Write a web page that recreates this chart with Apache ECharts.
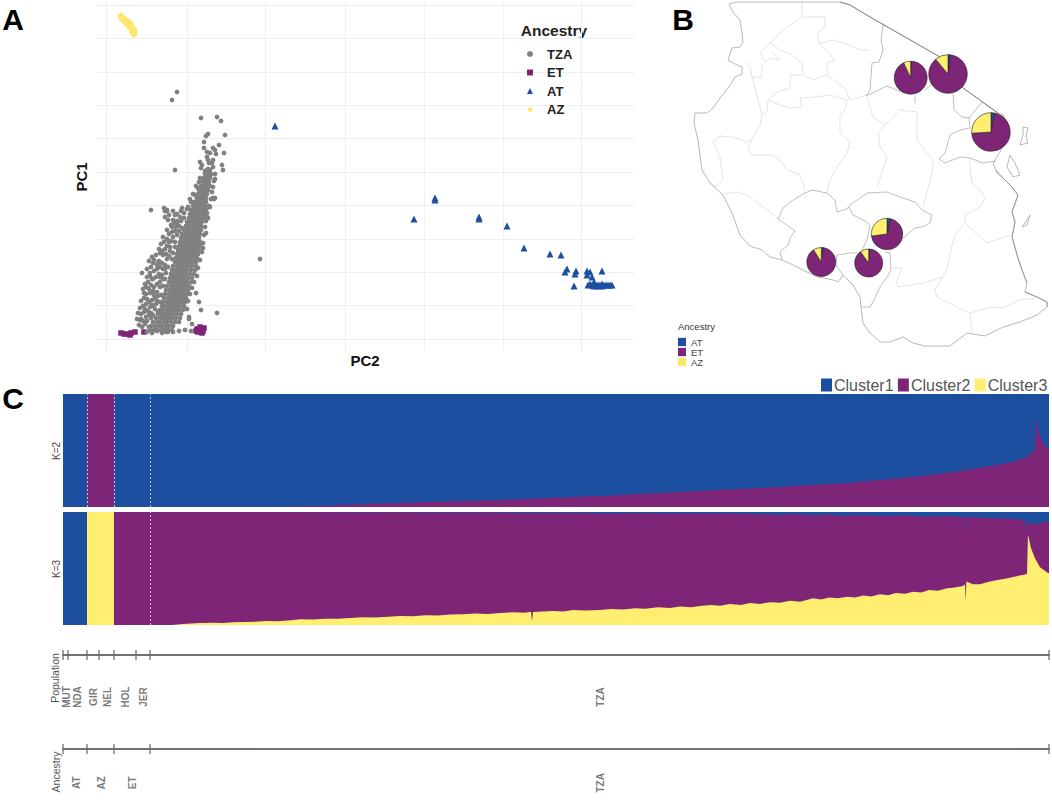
<!DOCTYPE html>
<html><head><meta charset="utf-8">
<script src="https://cdn.jsdelivr.net/npm/echarts@6/dist/echarts.min.js"></script>
<style>html,body{margin:0;padding:0;background:#fff}#c{width:1052px;height:801px}</style>
</head><body><div id="c"></div>
<script>
const BLUE='#1c4f9f',PURPLE='#7f2578',YELLOW='#ffee70',GRAY='#808080';
// ---------- Panel A values (PC2, PC1 in plot units) ----------
const pc2Grid=[9,90,168,248,327,406,484];
const pc1Grid=[0,33.4,66.8,100.2,133.6,167,200.4,233.8,267.2,300.6,334];
const tzaCoreRows=[
[9,[53,57,60,64,67,71,75]],[13,[54,58,62,65,69,72,76]],[17,[56,60,63,67,70,74,78,82]],[21,[59,63,66,69,72,75,79,83]],
[25,[61,65,68,71,74,77,80,84]],[29,[63,66,70,73,76,79,82,86]],[33,[65,68,71,74,77,80,83,87]],[37,[66,70,73,76,79,82,85,88]],
[41,[67,71,74,77,80,83,86,89]],[45,[68,72,75,78,81,84,87,90]],[49,[69,73,76,79,82,85,88,91]],[53,[70,74,77,80,83,86,89,92]],
[57,[72,75,78,81,84,87,90,94]],[61,[73,76,79,82,85,88,91,95]],[65,[74,77,80,83,86,89,93,97]],[69,[75,78,81,84,87,90,94,98]],
[73,[76,80,83,86,89,92,95,99]],[77,[78,81,84,87,90,93,96,99]],[81,[79,82,85,88,91,94,97,100]],[85,[80,83,86,89,92,95,98,101]],
[89,[81,84,87,90,93,96,99,102]],[93,[82,85,88,91,94,97,100,103]],[97,[83,86,89,92,95,98,101,103]],[101,[84,87,90,93,96,99,102]],
[105,[85,88,91,94,97,100,103]],[109,[87,90,93,96,99,102,104]],[113,[89,92,95,98,101,104]],[117,[90,93,96,99,102,105]],
[121,[92,95,98,101,104,106]],[125,[93,96,99,102,105,107]],[129,[94,97,100,103,106,108]],[133,[96,99,102,105,108]],
[137,[98,101,104,107,109]],[141,[100,103,106,109]],[145,[101,104,107,110]],[149,[102,105,108,111]],[153,[104,107,110,113]],
[157,[106,109,112]],[161,[107,110,113]],[165,[108,111,114]],[169,[110,113]]];
const tzaScatter=[[50,7],[55,6],[60,8],[65,6],[70,7],[76,7],[82,8],[88,9],[94,8],
[41,26],[43,19],[47,46],[49,52],[53,66],[45,66],[57,79],[61,76],[63,86],[70,109],[72,97],[68,90],[66,84],[60,70],[55,60],[52,50],[57,44],[50,40],[55,34],[48,30],[52,24],[58,30],[60,38],[63,52],[66,60],[68,70],[63,62],[70,80],[73,92],[76,102],[75,112],[80,118],[78,108],[71,119],[80,125],[84,128],[70,128],[68,122],[54,129],[67,131],[68,128],[70,129],
[120,26],[102,37],[99,46],[109,106],[106,91],[111,121],[118,141],[113,132],[107,122],[95,15],[104,29],[92,22],[163,80],
[75,239],[80,247],[104,221],[120,222],[124,218],[128,204],[111,205],[109,203],[107,197],[122,194],[107,191],[110,187],[116,191],[118,189],[127,186],[119,185],[103,177],[111,179],[116,179],[112,176],[116,172],[105,174],[104,171],[125,174],[126,169],[78,169],[112,167],[110,161],[113,162],[118,160],[103,161],[102,157],[109,157],[106,153],[99,153],[116,141],[117,140],[96,145],[98,144],[93,140],[94,137],[110,131],[110,122],[85,131],[91,132],[78,124],[83,122],[76,119],[80,116],
[45,12],[48,15],[42,14],[50,18],[46,18],[52,12],[44,20],[49,22],[54,21],[40,20],
[44,25],[47,27],[51,28],[54,26],[56,24],[43,31],[46,33],[49,35],[53,32],[56,33],[59,35],[61,27],
[44,38],[47,41],[52,37],[55,39],[58,41],[61,43],[63,37],[49,45],[53,46],[56,48],[60,47],[64,44],[46,50],
[48,55],[51,57],[54,54],[57,52],[60,55],[63,57],[66,53],[50,62],[53,63],[56,60],[59,62],[62,65],[65,64],[68,60],
[50,70],[54,72],[57,68],[60,74],[63,72],[66,70],[69,66],[52,78],[56,76],[62,78],[65,76],[68,74],[71,72],[55,82],
[59,84],[62,90],[65,88],[69,85],[72,83],[75,80],[64,95],[67,97],[70,93],[73,88],[76,86],[78,92],[66,102],[70,100],[74,98],[78,97],
[72,105],[75,107],[80,104],[82,108],[74,114],[77,116],[82,113],[85,111],[79,112],[84,118],[87,121],[72,124],[76,128],[87,126],[90,130],
[92,20],[90,30],[91,38],[93,45],[95,51],[97,57],[100,63],[101,71],[103,79],[105,87],[106,96],[107,104],[108,112],[109,118],[110,126],[112,133],[114,140],[115,147],[116,152],[117,158],[118,165],
[100,135],[99,128],[97,137],[95,124],[103,138],[105,142],[108,148],[104,146],[101,151],[106,158],[111,170],[108,168],[115,176],[110,182],[113,186]];
const etPoints=[[24,6],[27,5],[30,5],[33,4],[34,6],[38,7],[47,7],[70,8],[100,10],[102,8],[104,10],[106,8],[101,7],[105,6],[103,12],[99,8],[107,11]];
const atPoints=[[178,213],[338,141],[338,139],[317,120],[382,122],[382,120],[410,113],[427,91],[453,85],[464,84],[470,70],[468,67],[479,68],[478,65],[490,68],[493,67],[490,64],[505,68],[495,62],[477,53],[497,57],
[491,54],[493,55],[495,54],[497,55],[499,54],[501,54],[503,54],[505,55],[507,54],[509,54],[511,54],[513,54],[515,54],[497,53],[501,53],[505,53]];
const azPoints=[[25,321],[27,318],[29,316],[32,314],[34,313],[35,310],[36,306],[31,315],[37,309],[26,320],[33,311],[36,308],[29,319],[33,316],[24,323],[37,305]];
// ---------- Panel B values ----------
const ringCoast=[[729,4],[737,2],[840,2],[850,5],[870,17],[940,57],[963,88],[998,113],[1003,115],[1008,130],[1000,152],[993,163],[997,173],[1003,178],[1012,187],[1018,195],[1012,212],[1015,222],[1012,237],[1018,258],[1022,270],[1027,283],[1025,292],[1037,297],[1047,302],[1047,307],[1037,315],[1020,322],[1003,327],[985,336],[967,333],[950,346],[925,346],[913,343],[903,337],[890,342],[880,342],[870,333],[863,323],[861,307],[860,297],[853,285],[843,275],[838,282],[833,280],[818,277],[807,272],[793,265],[782,260],[770,257],[762,250],[750,246],[740,235],[732,213],[723,195],[710,183],[702,170],[698,140],[694,123],[695,113],[707,113],[713,108],[720,98],[729,87],[735,77],[742,74],[742,67],[733,63],[728,60],[732,48],[740,47],[743,42],[742,33],[740,20],[733,12],[729,4]];
const neBorder=[[840,2],[850,5],[870,17],[940,57],[963,88],[998,113]];
const darkCoast=[[[996,170],[1003,178],[1012,187],[1018,195],[1012,212],[1015,222],[1012,237],[1018,258],[1022,270],[1027,283]],[[1025,292],[1037,297],[1047,302],[1047,307]]];
const mediumLines=[
[[883,25],[881,40],[883,50],[879,62],[872,63],[870,90],[866,96],[887,86],[897,90],[905,93]],
[[915,95],[915,103]],[[925,90],[932,84]],
[[953,93],[954,110],[962,117],[969,118],[970,128],[960,130],[950,135],[945,153],[939,159],[945,163],[960,157],[970,158],[983,163],[996,161]],
[[969,118],[982,102],[998,113]],
[[778,219],[783,208],[790,202],[805,193],[812,190],[827,193],[835,200],[837,212],[847,209],[850,205],[867,193],[887,192],[903,198],[915,202],[922,210],[932,215],[930,223],[922,227],[915,228],[903,238],[897,247],[890,250]],
[[849,207],[853,215],[867,222],[870,226],[867,240],[863,248],[862,253],[850,253],[837,255],[836,265],[843,275]],
[[778,219],[795,231],[790,238],[788,245],[780,252],[782,260]],
[[885,252],[890,253],[891,270],[887,277],[880,287],[875,298],[870,307],[861,307]]];
const lightLines=[
[[802,2],[802,17],[825,17],[825,27],[818,33],[818,42],[823,43],[833,40],[850,45],[860,50],[870,50]],
[[802,17],[783,30],[770,43],[780,50],[792,55],[802,63],[803,75],[813,80],[827,75],[837,83],[845,88],[850,100],[867,95]],
[[818,42],[835,60],[827,63],[827,75]],
[[770,43],[760,53],[765,62],[772,58],[780,60],[772,52]],[[762,63],[762,77],[752,77]],
[[745,62],[750,67],[752,77],[758,100],[762,115],[760,125],[753,137],[748,148],[752,155],[773,155],[780,160],[787,170],[800,175],[803,183],[805,193]],
[[802,75],[790,75],[790,88],[777,92],[768,100],[767,112],[762,115]],
[[768,100],[780,105],[790,108],[802,107],[800,98],[815,97],[830,95],[847,100]],
[[847,100],[845,110],[840,115],[840,133],[850,142],[847,153],[837,167],[830,180],[827,193]],
[[713,142],[720,136],[733,137],[747,142],[753,138]],
[[713,142],[720,157],[723,180],[716,187],[710,183]],
[[725,194],[737,192],[747,195],[757,203],[768,210],[778,219]],
[[867,97],[873,117],[885,125],[878,133],[880,147],[887,157],[877,187]],
[[885,125],[900,110],[917,112],[917,140],[933,160],[932,173],[923,207]],
[[970,158],[970,170],[972,183],[980,190],[985,198],[980,207],[965,215],[965,223],[987,243],[1010,235]],
[[965,223],[955,235],[950,253],[948,267],[935,290],[937,297],[967,312],[970,313],[992,307],[1003,308],[1020,300],[1035,298]],
[[970,313],[972,333]],
[[943,277],[923,283],[912,285],[898,287],[896,283],[902,268],[892,268]]];
const islands=[
[[1023,127],[1028,128],[1026,136],[1028,143],[1020,145],[1023,135],[1023,127]],
[[1010,155],[1015,163],[1020,175],[1013,177],[1007,167],[1010,155]],
[[1030,215],[1027,225],[1022,227],[1027,220],[1030,215]]];
const pieCenters=[[910.7,77.7],[948,74],[991,132],[887,234],[821.3,262],[868.7,263]];
const pieRadii=[16.5,19.3,19.3,15.7,14.5,14];
const pieAT=[0.4,2,3,3.5,2,1];
const pieET=[92.6,87,71,69.5,89,89];
const pieAZ=[7,11,26,27,9,10];
// ---------- Panel C values (share per sample rank) ----------
const k2Purple=[[0,0],[24,0],[24,1],[51,1],[51,0],[200,0],[237,.005],[337,.035],[437,.062],[537,.097],[637,.142],[717,.177],[750,.195],[784,.212],[817,.239],[850,.265],[884,.30],[917,.345],[934,.372],[950,.398],[964,.442],[969,.487],[972,.496],[972.7,.796],[975,.664],[980,.566],[986,.504]];
const k3PurpleTop=[[0,0],[24,0],[24,1],[230,1],[260,.998],[300,.995],[340,.997],[380,.993],[420,.995],[460,.99],[500,.992],[540,.987],[580,.99],[620,.984],[660,.987],[700,.98],[717,.974],[730,.979],[750,.968],[765,.975],[780,.966],[800,.971],[820,.962],[840,.968],[860,.958],[880,.964],[897,.955],[902,.962],[902.7,.80],[903.4,.96],[920,.95],[935,.945],[950,.94],[962,.925],[963,.82],[964,.915],[970,.89],[975,.895],[986,.92]];
const k3Yellow=[[0,0],[24,0],[24,1],[51,1],[51,0],[109,0],[120,.008],[137,.017],[150,.021],[160,.018],[170,.024],[182,.027],[195,.03],[205,.036],[215,.034],[228,.042],[237,.05],[250,.048],[262,.056],[275,.055],[287,.062],[300,.068],[312,.066],[325,.074],[337,.08],[350,.078],[362,.086],[375,.083],[387,.092],[400,.095],[412,.101],[425,.098],[437,.106],[450,.112],[462,.108],[468,.118],[469,.03],[470,.116],[480,.12],[490,.124],[500,.12],[510,.132],[522,.128],[537,.133],[548,.142],[560,.138],[572,.149],[582,.144],[595,.156],[607,.15],[617,.163],[628,.157],[637,.168],[648,.176],[657,.17],[667,.186],[678,.178],[687,.194],[697,.186],[707,.202],[717,.196],[727,.214],[737,.206],[750,.236],[758,.226],[766,.244],[775,.236],[784,.25],[792,.244],[800,.262],[808,.252],[817,.272],[825,.264],[833,.284],[842,.276],[850,.295],[858,.288],[866,.31],[875,.302],[884,.325],[890,.33],[900,.346],[902,.36],[902.7,.21],[903.4,.385],[910,.36],[917,.36],[925,.38],[934,.398],[942,.41],[950,.425],[958,.44],[964,.451],[965,.80],[968,.68],[972,.59],[977,.51],[985,.46],[986,.457]];
const popTicks=[0,5,24,36,51,73,87,986];
const ancTicks=[0,24,51,87,986];
const popLabels=[['MUT',3],['NDA',14],['GIR',30],['NEL',44],['HOL',62],['JER',80],['TZA',537]];
const ancLabels=[['AT',13],['AZ',38],['ET',69],['TZA',537]];
const blockEdges=[24,51,87];

const tzaPoints=tzaCoreRows.flatMap(([y,xs])=>xs.map(x=>[x,y])).concat(tzaScatter);
const FONT='"Liberation Sans",Arial,sans-serif';
const geoPts=r=>r.map(([x,y])=>[x,-y]);
echarts.registerMap('tz',{type:'FeatureCollection',features:[{type:'Feature',properties:{name:'Tanzania'},geometry:{type:'Polygon',coordinates:[geoPts(ringCoast)]}}]});
const chart=echarts.init(document.getElementById('c'),null,{renderer:'svg'});

const gridLine={show:true,lineStyle:{color:'#efefef',width:1}};
const offAxis=(extra)=>Object.assign({type:'value',show:false,splitLine:{show:false}},extra);
function area(name,data,color,idx,dividers){
  return {name,type:'line',xAxisIndex:idx,yAxisIndex:idx,data,showSymbol:false,symbol:'none',silent:true,animation:false,
    lineStyle:{width:0},itemStyle:{color},areaStyle:{color,opacity:1,origin:'start'},
    markLine:dividers?{silent:true,symbol:'none',label:{show:false},animation:false,lineStyle:{color:'#e8e0f0',type:[2,2],width:.8},data:dividers.map(v=>({xAxis:v}))}:undefined};
}
function track(idx,ticks,labels){
  return [{type:'scatter',xAxisIndex:idx,yAxisIndex:idx,silent:true,clip:false,symbol:'rect',symbolSize:[1.2,10],itemStyle:{color:'#666',opacity:1},data:ticks.map(t=>[t,1]),animation:false},
  {type:'scatter',xAxisIndex:idx,yAxisIndex:idx,silent:true,clip:false,symbolSize:0,animation:false,
   data:labels.map(([n,x])=>({name:n,value:[x,idx===3?.3:.35]})),
   label:{show:true,position:'inside',rotate:90,formatter:p=>p.name,fontFamily:FONT,fontSize:10,color:'#555',fontWeight:'bold'}}];
}
const lineSeries=(list,color,width,z)=>list.map(r=>({type:'line',xAxisIndex:5,yAxisIndex:5,data:r,showSymbol:false,symbol:'none',silent:true,animation:false,clip:false,z,
  lineStyle:{color,width,opacity:1},itemStyle:{color}}));
const pies=pieCenters.map((c,i)=>({type:'pie',coordinateSystem:'geo',center:[c[0],-c[1]],radius:[0,pieRadii[i]],startAngle:90,clockwise:true,silent:true,animation:false,z:6,
  label:{show:false},labelLine:{show:false},itemStyle:{borderColor:'#222',borderWidth:.6},
  data:[{name:'AT',value:pieAT[i],itemStyle:{color:BLUE}},{name:'ET',value:pieET[i],itemStyle:{color:PURPLE}},{name:'AZ',value:pieAZ[i],itemStyle:{color:YELLOW}}]}));

const txt=(text,x,y,font,fill,rot,align)=>({type:'text',x,y,rotation:rot||0,silent:true,style:{text,x:0,y:0,font,fill:fill||'#000',textAlign:align||'center',textVerticalAlign:'middle'}});

chart.setOption({
  animation:false,backgroundColor:'#fff',
  grid:[
   {left:97,top:2,width:538,height:350,containLabel:false},
   {left:63,top:394,width:986,height:113},
   {left:63,top:512,width:986,height:113},
   {left:63,top:655,width:986,height:60},
   {left:63,top:749,width:986,height:60},
   {left:660,top:0,width:392,height:375}],
  xAxis:[
   {type:'value',gridIndex:0,min:0,max:538,axisLine:{show:false},axisLabel:{show:false},axisTick:{show:false,customValues:pc2Grid},splitLine:gridLine},
   offAxis({gridIndex:1,min:0,max:986}),offAxis({gridIndex:2,min:0,max:986}),
   {type:'value',gridIndex:3,min:0,max:986,position:'top',axisLine:{show:true,onZero:false,lineStyle:{color:'#444',width:1.5}},axisTick:{show:false},axisLabel:{show:false},splitLine:{show:false}},
   {type:'value',gridIndex:4,min:0,max:986,position:'top',axisLine:{show:true,onZero:false,lineStyle:{color:'#444',width:1.5}},axisTick:{show:false},axisLabel:{show:false},splitLine:{show:false}},
   offAxis({gridIndex:5,min:660,max:1052})],
  yAxis:[
   {type:'value',gridIndex:0,min:-13,max:337,axisLine:{show:false},axisLabel:{show:false},axisTick:{show:false,customValues:pc1Grid},splitLine:gridLine},
   offAxis({gridIndex:1,min:0,max:1}),offAxis({gridIndex:2,min:0,max:1}),offAxis({gridIndex:3,min:0,max:1}),offAxis({gridIndex:4,min:0,max:1}),
   offAxis({gridIndex:5,min:0,max:375,inverse:true})],
  geo:{map:'tz',silent:true,roam:false,aspectScale:1,left:660,top:0,width:392,height:375,boundingCoords:[[660,0],[1052,-375]],
    itemStyle:{areaColor:'#fff',borderWidth:0},label:{show:false},emphasis:{disabled:true},z:1},
  legend:[
   {left:527,top:47,padding:0,orient:'vertical',itemWidth:6,itemHeight:6,itemGap:4.5,selectedMode:false,data:['TZA','ET','AT','AZ'],
    textStyle:{fontFamily:FONT,fontSize:13,fontWeight:'bold',color:'#222',lineHeight:14,padding:[0,0,0,9]}},
   {left:821,top:377,padding:0,orient:'horizontal',itemWidth:11,itemHeight:13,itemGap:4.3,selectedMode:false,data:[{name:'Cluster1',icon:'rect'},{name:'Cluster2',icon:'rect'},{name:'Cluster3',icon:'rect'}],
    textStyle:{fontFamily:FONT,fontSize:16,color:'#555',padding:[0,0,0,-3]}},
   {left:678,top:337,padding:0,orient:'vertical',itemWidth:8,itemHeight:8.3,itemGap:0,selectedMode:false,data:[{name:'AT',icon:'rect'},{name:'ET',icon:'rect'},{name:'AZ',icon:'rect'}],
    textStyle:{fontFamily:FONT,fontSize:9.5,color:'#444',lineHeight:8.3}}],
  series:[
   {name:'ET',type:'scatter',xAxisIndex:0,yAxisIndex:0,symbol:'rect',symbolSize:5.5,itemStyle:{color:PURPLE,opacity:1},data:etPoints,silent:true,z:2},
   {name:'TZA',type:'scatter',xAxisIndex:0,yAxisIndex:0,symbol:'circle',symbolSize:4.8,itemStyle:{color:GRAY,opacity:1},data:tzaPoints,silent:true,z:3},
   {name:'AT',type:'scatter',xAxisIndex:0,yAxisIndex:0,symbol:'triangle',symbolSize:7,itemStyle:{color:BLUE,opacity:1},data:atPoints,silent:true,z:3},
   {name:'AZ',type:'scatter',xAxisIndex:0,yAxisIndex:0,symbol:'diamond',symbolSize:8,itemStyle:{color:'#fbe86a',opacity:1},data:azPoints,silent:true,z:3},
   ...lineSeries(lightLines,'#e4e4e4',1,2),
   ...lineSeries(mediumLines,'#b8b8b8',.9,3),
   ...lineSeries([ringCoast].concat(islands),'#b0b0b0',.9,3),
   ...lineSeries(darkCoast,'#8c8c8c',.8,4),
   ...lineSeries([neBorder],'#8a8a8a',1,4),
   ...pies,
   area('Cluster1',[[0,1],[986,1]],BLUE,1),
   area('Cluster2',k2Purple,PURPLE,1,blockEdges),
   area('Cluster1',[[0,1],[986,1]],BLUE,2),
   area('Cluster2',k3PurpleTop,PURPLE,2),
   area('Cluster3',k3Yellow,YELLOW,2,[87]),
   ...track(3,popTicks,popLabels),
   ...track(4,ancTicks,ancLabels)],
  graphic:{elements:[
   txt('A',13,19,'bold 30px '+FONT),txt('B',683,19,'bold 30px '+FONT),txt('C',13,398,'bold 30px '+FONT),
   txt('PC1',81,177,'bold 15px '+FONT,'#111',Math.PI/2),txt('PC2',365,360,'bold 15px '+FONT,'#111'),
   txt('Ancestry',554,30,'bold 15.5px '+FONT,'#222'),
   txt('Ancestry',678,326,'9.5px '+FONT,'#333',0,'left'),
   txt('K=2',56,451,'10px '+FONT,'#444',Math.PI/2),txt('K=3',56,569,'10px '+FONT,'#444',Math.PI/2),
   txt('Population',55,678,'10.5px '+FONT,'#555',Math.PI/2),txt('Ancestry',56,772,'10.5px '+FONT,'#555',Math.PI/2)
  ]}
});
</script></body></html>
